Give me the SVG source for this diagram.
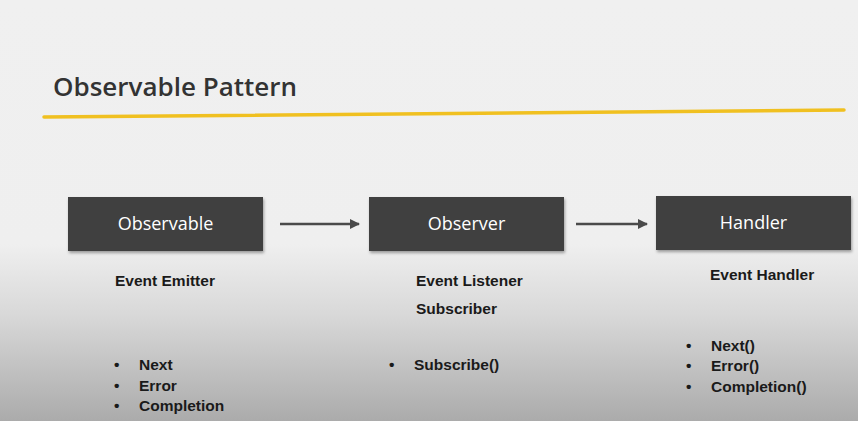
<svg xmlns="http://www.w3.org/2000/svg" width="858" height="421" viewBox="0 0 858 421">
  <defs>
    <linearGradient id="bg" x1="0" y1="0" x2="0" y2="1">
      <stop offset="0" stop-color="#f0f0f0"/>
      <stop offset="0.58" stop-color="#efefef"/>
      <stop offset="0.75" stop-color="#d8d8d8"/>
      <stop offset="1" stop-color="#ababab"/>
    </linearGradient>
    <filter id="shadow" x="-10%" y="-20%" width="120%" height="150%">
      <feDropShadow dx="1" dy="2" stdDeviation="1.5" flood-color="#000" flood-opacity="0.35"/>
    </filter>
    <marker id="arrow" viewBox="0 0 10 10" refX="9" refY="5" markerWidth="4" markerHeight="4" orient="auto">
      <path d="M0,0 L10,5 L0,10 z" fill="#4a4a4a"/>
    </marker>
    <style>
      .box { fill: #404040; filter: url(#shadow); }
      .box-label { font-family: "Open Sans", "Noto Sans", sans-serif; font-size: 18px; font-weight: 500; fill: #ffffff; text-anchor: middle; }
      .title { font-family: "Open Sans", "Noto Sans", sans-serif; font-size: 26px; font-weight: 600; fill: #333333; }
      .note { font-family: "Liberation Sans", "Noto Sans", sans-serif; font-size: 15.5px; font-weight: bold; fill: #1a1a1a; }
      .conn { stroke: #4a4a4a; stroke-width: 2.5; fill: none; marker-end: url(#arrow); }
    </style>
  </defs>

  <rect width="858" height="421" fill="url(#bg)"/>

  <!-- heading -->
  <text class="title" x="53" y="96">Observable Pattern</text>
  <line x1="44" y1="117" x2="844" y2="110" stroke="#f0c020" stroke-width="3.5" stroke-linecap="round"/>

  <!-- nodes -->
  <g id="observable">
    <rect class="box" x="68" y="197" width="195" height="54"/>
    <text class="box-label" x="165.5" y="230">Observable</text>
  </g>
  <g id="observer">
    <rect class="box" x="369" y="197" width="195" height="54"/>
    <text class="box-label" x="466.5" y="230">Observer</text>
  </g>
  <g id="handler">
    <rect class="box" x="656" y="196" width="195" height="54"/>
    <text class="box-label" x="753.5" y="229">Handler</text>
  </g>

  <!-- connectors -->
  <g id="connectors">
    <line class="conn" x1="280" y1="224" x2="359" y2="224"/>
    <line class="conn" x1="576" y1="224" x2="647" y2="224"/>
  </g>

  <!-- notes under Observable -->
  <g id="observable-notes">
    <text class="note" x="115" y="286">Event Emitter</text>
    <text class="note" x="114" y="370">•</text>
    <text class="note" x="139" y="370">Next</text>
    <text class="note" x="114" y="391">•</text>
    <text class="note" x="139" y="391">Error</text>
    <text class="note" x="114" y="411">•</text>
    <text class="note" x="139" y="411">Completion</text>
  </g>

  <!-- notes under Observer -->
  <g id="observer-notes">
    <text class="note" x="416" y="286">Event Listener</text>
    <text class="note" x="416" y="314">Subscriber</text>
    <text class="note" x="389" y="370">•</text>
    <text class="note" x="414" y="370">Subscribe()</text>
  </g>

  <!-- notes under Handler -->
  <g id="handler-notes">
    <text class="note" x="710" y="280">Event Handler</text>
    <text class="note" x="686" y="351">•</text>
    <text class="note" x="711" y="351">Next()</text>
    <text class="note" x="686" y="371">•</text>
    <text class="note" x="711" y="371">Error()</text>
    <text class="note" x="686" y="392">•</text>
    <text class="note" x="711" y="392">Completion()</text>
  </g>
</svg>
